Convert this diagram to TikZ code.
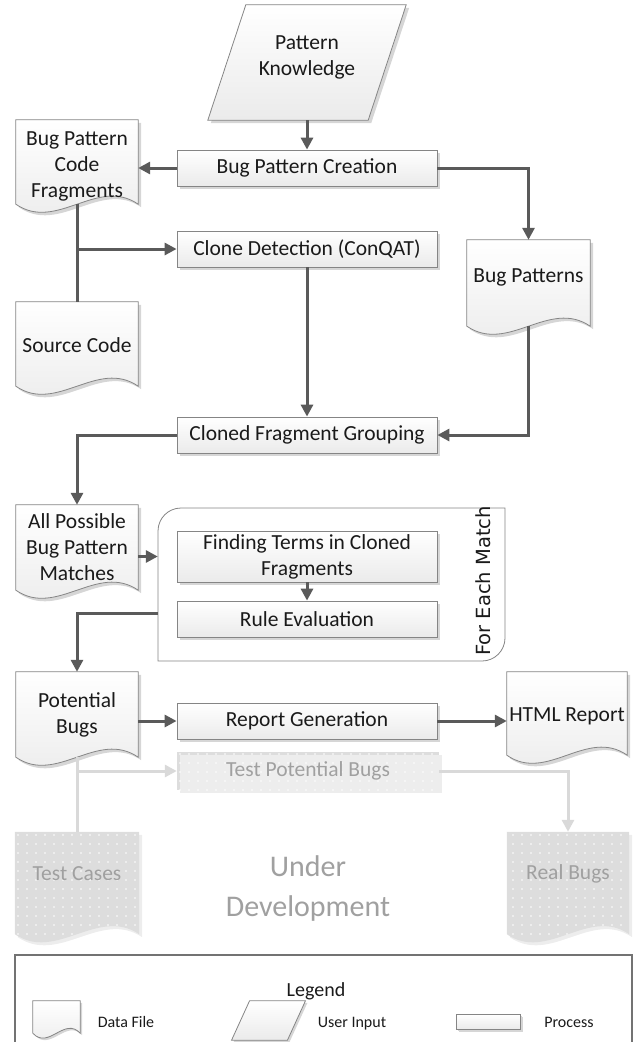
\documentclass[tikz,border=0pt]{standalone}
\usepackage{fontspec}
\setmainfont{Carlito}
\newfontfamily\dejavu{DejaVu Sans}
\usetikzlibrary{arrows.meta,calc,shadows,backgrounds,patterns.meta}
\definecolor{conncol}{HTML}{5A5A5A}
\definecolor{edgecol}{HTML}{858585}
\definecolor{devfill}{HTML}{DDDDDD}
\definecolor{devline}{HTML}{D9D9D9}
\definecolor{devtext}{HTML}{A0A0A0}
\definecolor{shad}{HTML}{D6D6D6}
\definecolor{txt}{HTML}{1A1A1A}
\newcommand{\mainfs}{\fontsize{21.5}{26}\selectfont}
\newcommand{\legfs}{\fontsize{16}{19}\selectfont}
\newcommand{\docpath}[3]{\path[#3] (#1.north west) -- (#1.north east) -- (#1.south east) .. controls ($(#1.south east)!0.3333!(#1.south west)+(0,-#2)$) and ($(#1.south east)!0.6667!(#1.south west)+(0,#2)$) .. (#1.south west) -- cycle;}
\newcommand{\parpath}[3]{\path[#3] ($(#1.north west)+(#2,0)$) -- ($(#1.north east)+(#2,0)$) -- ($(#1.south east)+(-#2,0)$) -- ($(#1.south west)+(-#2,0)$) -- cycle;}
\tikzset{
  inv/.style={draw=none, inner sep=0pt, text=txt},
  docnode/.style={draw=none, inner sep=0pt, minimum width=122pt, minimum height=84pt},
  doclab/.style={font=\mainfs, align=center, text=txt},
  devlab/.style={font=\mainfs, align=center, text=devtext},
  shapefill/.style={draw=edgecol, line width=0.8pt, top color=white, bottom color=black!8},
  shadowfill/.style={fill=shad},
  proc/.style={rectangle, draw=edgecol, line width=0.8pt, top color=white, bottom color=black!8,
    minimum width=260pt, minimum height=36pt, inner sep=0pt, font=\mainfs, align=center, text=txt,
    drop shadow={shadow xshift=3pt, shadow yshift=-3pt, fill=shad, opacity=1}},
  devproc/.style={rectangle, draw=none, preaction={fill=devfill},
    pattern={Dots[distance=9pt,radius=0.8pt]}, pattern color=white,
    minimum width=262pt, minimum height=38pt, inner sep=0pt, font=\mainfs, text=devtext,
    drop shadow={shadow xshift=3pt, shadow yshift=-3pt, fill=black!7, opacity=1}},
  conn/.style={draw=conncol, line width=3pt, -{Triangle[length=12pt,width=12pt]}},
  connplain/.style={draw=conncol, line width=3pt},
  devconn/.style={draw=devline, line width=3pt, -{Triangle[length=12pt,width=12pt]}},
  devconnplain/.style={draw=devline, line width=3pt},
  legtext/.style={font=\legfs, text=txt, inner sep=0pt, anchor=base}
}
\begin{document}
\begin{tikzpicture}[x=1pt,y=-1pt]
\useasboundingbox (0,0) rectangle (634,1042);

% ---------- nodes ----------
\node[inv, minimum width=160pt, minimum height=115pt, label={[doclab, yshift=5pt]center:{Pattern\\Knowledge}}] (pk) at (307,62.5) {};

\node[proc] (bpc) at (307,168) {Bug Pattern Creation};
\node[proc] (cd)  at (307,249) {Clone Detection (ConQAT)};
\node[proc] (cfg) at (307,435) {Cloned Fragment Grouping};

% loop container
\draw[draw=edgecol, line width=0.8pt, fill=white] (505,508) -- (181,508) .. controls (168.3,508) and (158,518.3) .. (158,531) -- (158,661) -- (482,661) .. controls (494.7,661) and (505,650.7) .. (505,638) -- cycle;
\node[inv, minimum width=347pt, minimum height=153pt] (loop) at (331.5,584.5) {};
\node[inv, rotate=90, font=\dejavu\fontsize{19.5}{23}\selectfont] (fem) at (483,581) {For Each Match};

\node[proc, minimum height=51pt] (ft) at (307,556.5) {Finding Terms in Cloned\\Fragments};
\node[proc] (re)  at (307,619) {Rule Evaluation};
\node[proc] (rg)  at (307,721) {Report Generation};
\node[devproc] (tpb) at (308,771) {Test Potential Bugs};

\node[docnode, label={[doclab, yshift=-4pt]center:{Bug Pattern\\Code\\Fragments}}] (bpcf) at (77,162) {};
\node[docnode, label={[doclab, yshift=-1pt]center:{Source Code}}] (sc) at (77,344) {};
\node[docnode, minimum width=123pt, minimum height=86pt, label={[doclab, yshift=6pt]center:{Bug Patterns}}] (bp) at (528.5,283) {};
\node[docnode, minimum height=85pt, label={[doclab]center:{All Possible\\Bug Pattern\\Matches}}] (apbpm) at (77,547.5) {};
\node[docnode, minimum height=85pt, label={[doclab]center:{Potential\\Bugs}}] (pb) at (77,714.5) {};
\node[docnode, minimum width=120pt, minimum height=83pt, label={[doclab, yshift=-3pt]center:{HTML Report}}] (html) at (567,713.5) {};
\node[docnode, minimum width=124pt, minimum height=102pt, label={[devlab, yshift=9pt]center:{Test Cases}}] (tc) at (77,883) {};
\node[docnode, minimum width=122pt, minimum height=102pt, label={[devlab, yshift=9pt]center:{Real Bugs}}] (rb) at (568,883) {};

\node[inv, align=center, font=\fontsize{30}{40}\selectfont, text=devtext] (ud) at (308,888) {Under\\Development};

% legend
\draw[draw=black!55, line width=1.2pt] (15,955) rectangle (632,1080);
\node[inv, font=\fontsize{20}{24}\selectfont] (legt) at (316,991) {Legend};
\node[inv, minimum width=47pt, minimum height=32pt] (ldoc) at (56.5,1017) {};
\node[legtext] (ldoct) at (126,1027) {Data File};
\node[inv, minimum width=55.5pt, minimum height=39pt] (lpar) at (268.5,1020.5) {};
\node[legtext] (lpart) at (352,1027) {User Input};
\node[proc, minimum width=64pt, minimum height=15pt, drop shadow={shadow xshift=2pt, shadow yshift=-2pt, fill=shad, opacity=1}] (lproc) at (488,1021.5) {};
\node[legtext] (lproct) at (569,1027) {Process};

% ---------- shapes on background ----------
\begin{scope}[on background layer]
  \begin{scope}[transform canvas={shift={(3pt,-3pt)}}]
    \parpath{pk}{19}{shadowfill}
    \docpath{bpcf}{28}{shadowfill}
    \docpath{sc}{28}{shadowfill}
    \docpath{bp}{28}{shadowfill}
    \docpath{apbpm}{28}{shadowfill}
    \docpath{pb}{28}{shadowfill}
    \docpath{html}{28}{shadowfill}
    \docpath{tc}{28}{fill=black!7}
    \docpath{rb}{28}{fill=black!7}
  \end{scope}
  \begin{scope}[transform canvas={shift={(2pt,-2pt)}}]
    \docpath{ldoc}{17}{shadowfill}
    \parpath{lpar}{9}{shadowfill}
  \end{scope}
  \parpath{pk}{19}{shapefill}
  \docpath{bpcf}{28}{shapefill}
  \docpath{sc}{28}{shapefill}
  \docpath{bp}{28}{shapefill}
  \docpath{apbpm}{28}{shapefill}
  \docpath{pb}{28}{shapefill}
  \docpath{html}{28}{shapefill}
  \docpath{tc}{28}{fill=devfill}
  \docpath{tc}{28}{pattern={Dots[distance=9pt,radius=0.8pt]}, pattern color=white}
  \docpath{rb}{28}{fill=devfill}
  \docpath{rb}{28}{pattern={Dots[distance=9pt,radius=0.8pt]}, pattern color=white}
  \docpath{ldoc}{17}{shapefill}
  \parpath{lpar}{9}{shapefill}
\end{scope}

% ---------- connectors ----------
\draw[conn] (pk.south) -- (bpc.north);
\draw[conn] (bpc.west) -- (bpc.west -| bpcf.east);
\draw[conn] (bpc.east) -| (bp.north);
\draw[connplain] (bpcf.south) -- (sc.north);
\coordinate (j1) at (bpcf.south |- cd.west);
\draw[conn] (j1) -- (cd.west);
\draw[conn] (cd.south) -- (cfg.north);
\draw[conn] (bp.south) |- (cfg.east);
\draw[conn] (cfg.west) -| (apbpm.north);
\draw[conn] (apbpm.east |- ft.west) -- (loop.west |- ft.west);
\draw[conn] (ft.south) -- (re.north);
\coordinate (j3) at ([yshift=6pt]loop.west |- re.west);
\draw[conn] (j3) -| (pb.north);
\draw[conn] (pb.east |- rg.west) -- (rg.west);
\draw[conn] (rg.east) -- (rg.east -| html.west);

\draw[devconnplain] (pb.south) -- (tc.north);
\coordinate (j2) at (pb.south |- tpb.west);
\draw[devconn] (j2) -- (tpb.west);
\draw[devconn] (tpb.east) -| (rb.north);
\end{tikzpicture}
\end{document}
